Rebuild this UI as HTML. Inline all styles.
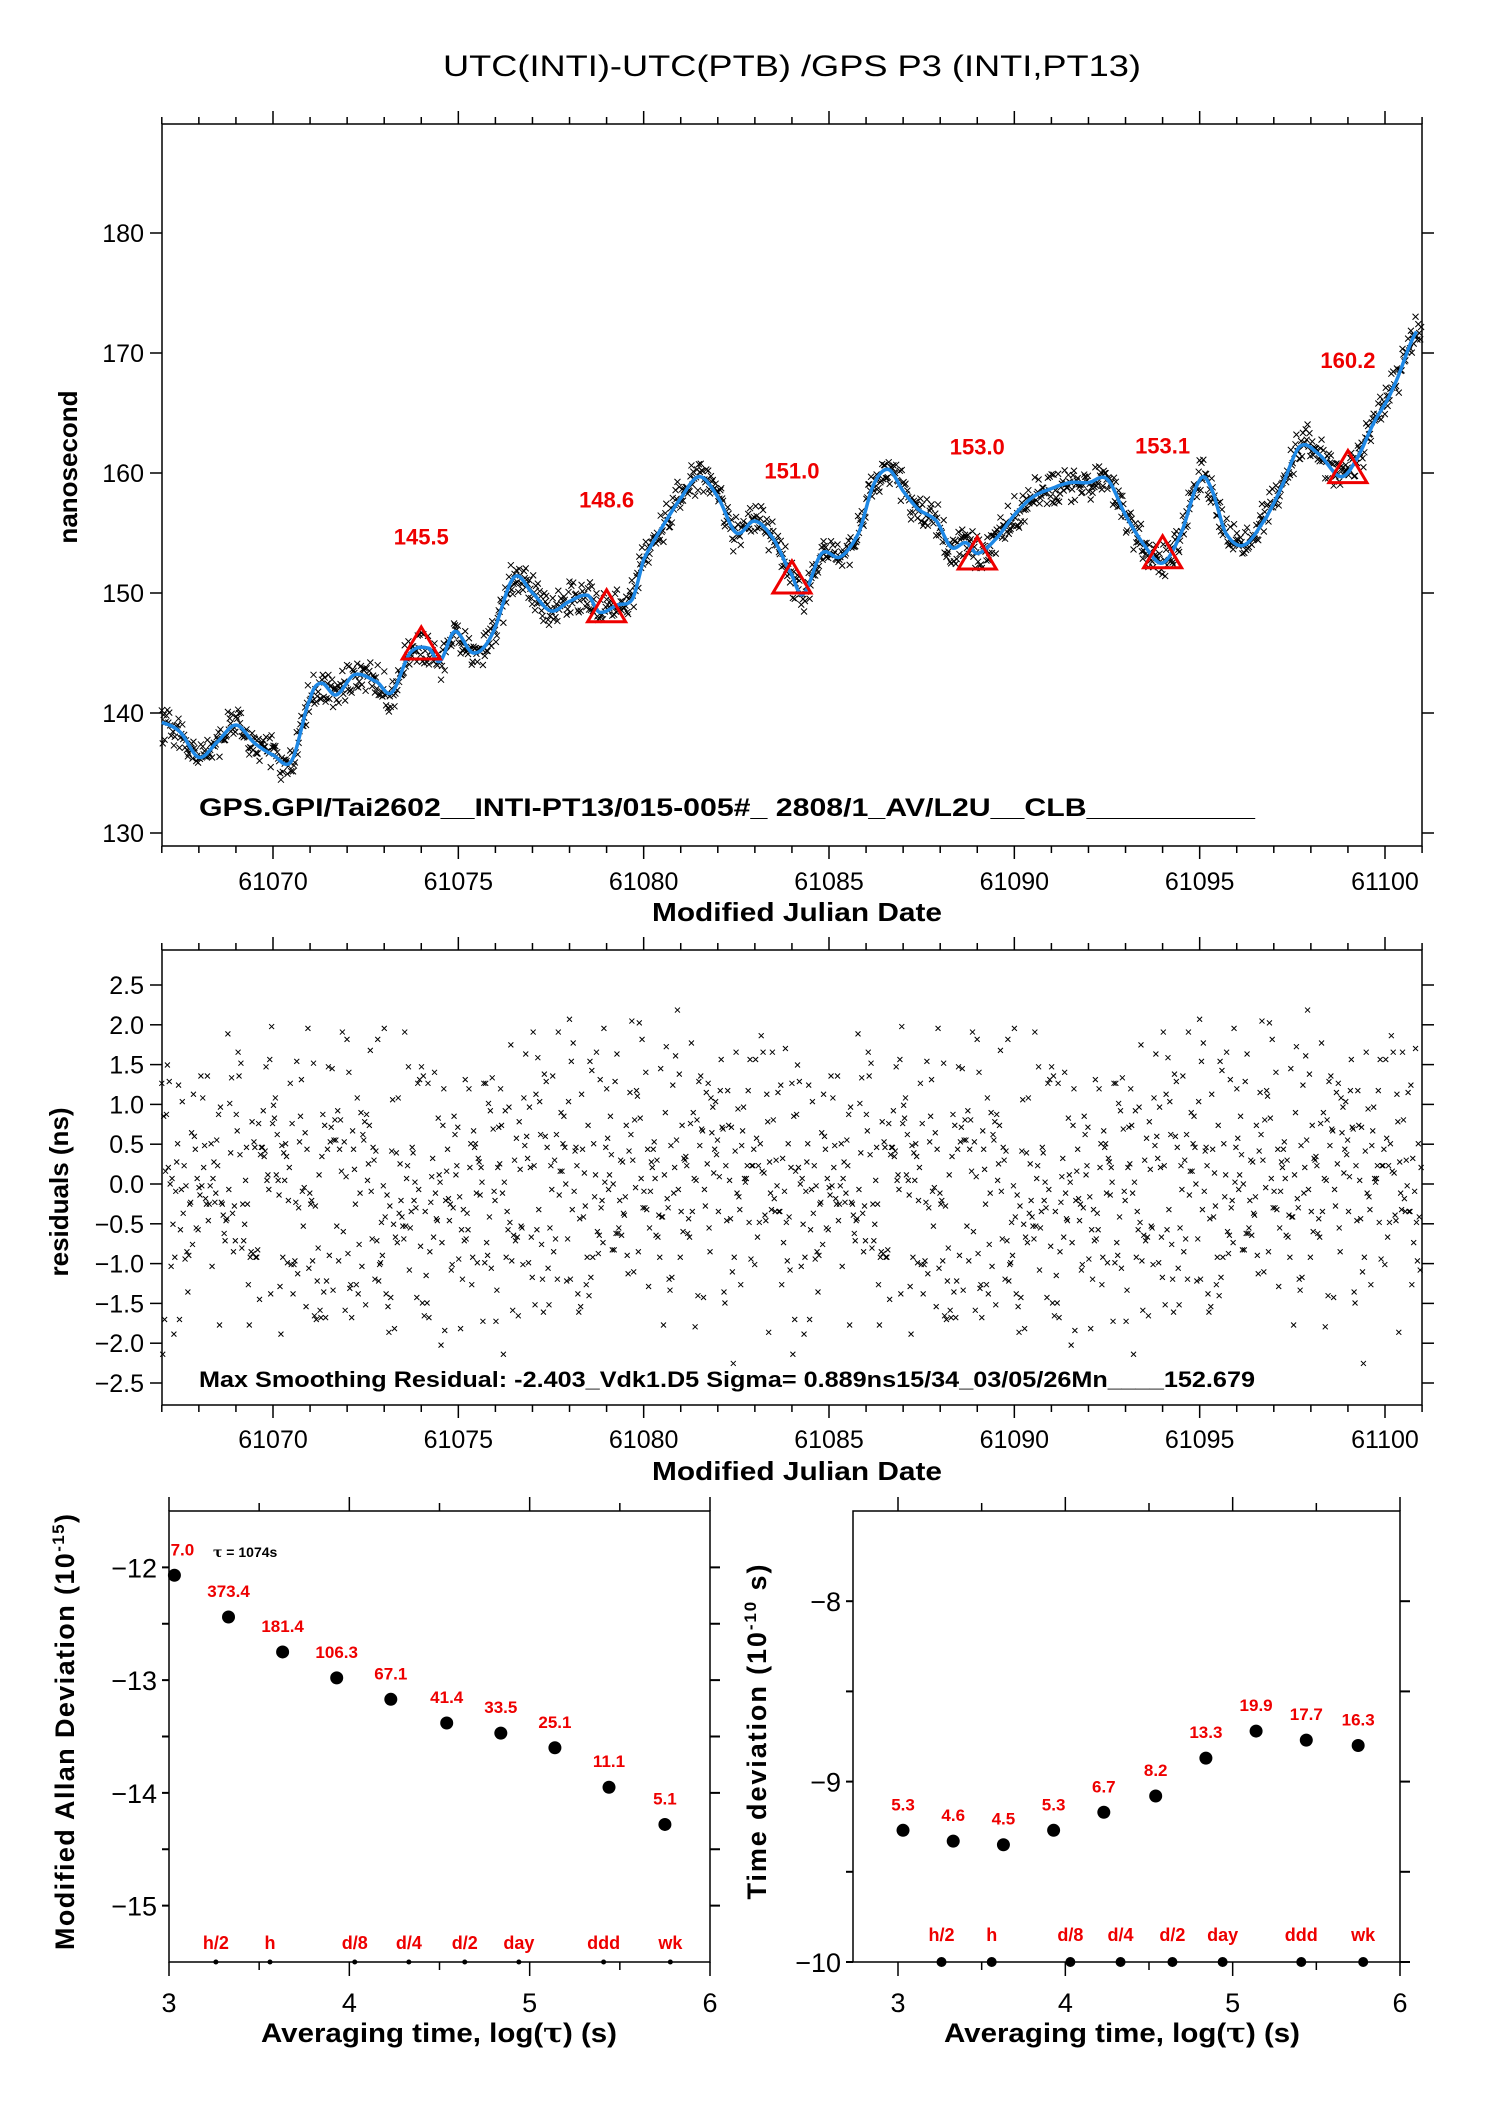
<!DOCTYPE html>
<html><head><meta charset="utf-8">
<style>
html,body{margin:0;padding:0;background:#fff;}
svg{display:block;font-family:"Liberation Sans",sans-serif;}
</style></head>
<body>
<svg id="chart" width="1488" height="2105" viewBox="0 0 1488 2105" xmlns="http://www.w3.org/2000/svg">
<rect x="0" y="0" width="1488" height="2105" fill="#fff"/>
<text x="792" y="76" font-size="30" text-anchor="middle" textLength="698" lengthAdjust="spacingAndGlyphs">UTC(INTI)-UTC(PTB)  /GPS  P3  (INTI,PT13)</text>
<g id="top"></g><g id="res"></g><g id="adev"></g><g id="tdev"></g>
</svg>
<script>
// ---- data ----
const smoothMjd = [61067.0,61067.5,61068.0,61068.5,61069.0,61069.5,61070.0,61070.5,61071.0,61071.3,61071.7,61072.2,61072.8,61073.2,61073.7,61074.2,61074.5,61074.9,61075.4,61075.9,61076.5,61077.0,61077.5,61078.0,61078.5,61078.8,61079.3,61079.7,61080.0,61080.5,61081.0,61081.5,61082.0,61082.5,61083.0,61083.5,61084.0,61084.3,61084.8,61085.3,61085.8,61086.2,61086.6,61087.0,61087.4,61087.9,61088.3,61088.7,61089.0,61089.5,61090.0,61090.5,61091.0,61091.5,61092.0,61092.5,61093.0,61093.5,61094.0,61094.5,61095.0,61095.3,61095.7,61096.2,61096.8,61097.2,61097.7,61098.2,61098.8,61099.2,61099.7,61100.2,61100.9];
const smoothNs = [139.2,138.4,136.3,137.6,139.0,137.5,136.5,136.0,141.2,142.5,141.5,143.2,142.6,141.7,145.0,145.4,144.3,146.8,145.0,146.5,151.3,150.0,148.5,149.3,149.8,148.4,149.0,149.5,152.8,155.5,157.9,159.7,158.0,155.0,156.0,154.5,151.5,149.9,153.3,153.0,155.0,159.0,160.3,158.5,157.0,156.0,153.8,154.2,153.3,154.5,156.5,158.0,158.7,159.2,159.2,159.5,156.5,154.0,152.5,155.0,159.4,158.8,155.0,154.0,156.3,158.8,162.2,161.6,159.7,161.0,164.2,167.0,172.0];
const triMjd = [61074,61079,61084,61089,61094,61099];
const triVal = [145.5,148.6,151.0,153.0,153.1,160.2];
const residDigits = "47291850364729183506274819350627481930572846193057284619305728461930574"+
"52863194705283619470528361947052836194705283619473816205947381620594738"+
"16205947381620594736281940573628194057362819405736281940573628194057291"+
"84036572918403657291840365729184036572918403657291840365748392016574839"+
"20165748392016574839201657483920165748392016561830497561830497561830497"+
"56183049756183049756183049752940618375294061837529406183752940618375294"+
"06183758371920465837192046583719204658371920465837192046583719204654629"+
"18305746291830574629183057462918305746291830574629183057436275819043627"+
"58190436275819043627581904362758190436275819043615847293061584729306158"+
"47293061584729306158472930615847293064";
const adevX = [3.03,3.33,3.63,3.93,4.23,4.54,4.84,5.14,5.44,5.75];
const adevY = [-12.07,-12.44,-12.75,-12.98,-13.17,-13.38,-13.47,-13.6,-13.95,-14.28];
const adevLbl = ["7.0","373.4","181.4","106.3","67.1","41.4","33.5","25.1","11.1","5.1"];
const tdevY = [-9.27,-9.33,-9.35,-9.27,-9.17,-9.08,-8.87,-8.72,-8.77,-8.8];
const tdevLbl = ["5.3","4.6","4.5","5.3","6.7","8.2","13.3","19.9","17.7","16.3"];
const markX = [3.26,3.56,4.03,4.33,4.64,4.94,5.41,5.78];
const markLbl = ["h/2","h","d/8","d/4","d/2","day","ddd","wk"];

const NS="http://www.w3.org/2000/svg";
function mk(parent,tag,attrs,text){const e=document.createElementNS(NS,tag);for(const k in attrs)e.setAttribute(k,attrs[k]);if(text!==undefined)e.textContent=text;parent.appendChild(e);return e;}
function interp(m){const n=smoothMjd.length;
 for(let i=0;i<n-1;i++){if(m<=smoothMjd[i+1]){const t=(m-smoothMjd[i])/(smoothMjd[i+1]-smoothMjd[i]);
  const p0=smoothNs[Math.max(i-1,0)],p1=smoothNs[i],p2=smoothNs[i+1],p3=smoothNs[Math.min(i+2,n-1)];
  const t2=t*t,t3=t2*t;
  return 0.5*((2*p1)+(-p0+p2)*t+(2*p0-5*p1+4*p2-p3)*t2+(-p0+3*p1-3*p2+p3)*t3);}}
 return smoothNs[n-1];}
function xmark(g,x,y,s){mk(g,'path',{d:`M${x-s},${y-s}L${x+s},${y+s}M${x-s},${y+s}L${x+s},${y-s}`,stroke:'#000','stroke-width':1});}
const N=residDigits.length;
function resid(i){const a=+residDigits[(i*13+5)%N],b=+residDigits[(i*37+11)%N],c=+residDigits[(i*71+29)%N],d=+residDigits[(i*3+1)%N];
 const u1=((a*10+b)-49.5)/50,u2=((c*10+d)-49.5)/50;return (u1+u2)*1.15;}

const L=162,R=1422;
const xM=m=>273+(m-61070)*(1385-273)/30;
function xAxis(g,T,B,labY){
 for(let d=61067;d<=61101;d++){const x=xM(d);const len=(d%5===0)?13:7;
  mk(g,'line',{x1:x,y1:B,x2:x,y2:B+len,stroke:'#000','stroke-width':1.5});
  mk(g,'line',{x1:x,y1:T,x2:x,y2:T-len,stroke:'#000','stroke-width':1.5});
  if(d%5===0){const t=mk(g,'text',{x:x,y:labY,'font-size':25,'text-anchor':'middle'},String(d));}}
}
// ---- top panel ----
(function(){
 const g=document.getElementById('top');
 const T=124,B=846;
 const y=v=>833-(v-130)*12;
 const f=mk(g,'rect',{x:L,y:T,width:R-L,height:B-T,fill:'none',stroke:'#000','stroke-width':1.5});
 
 xAxis(g,T,B,890);
 for(let v=130;v<=180;v+=10){const yy=y(v);
  mk(g,'line',{x1:L-12,y1:yy,x2:L,y2:yy,stroke:'#000','stroke-width':1.5});
  mk(g,'line',{x1:R,y1:yy,x2:R+12,y2:yy,stroke:'#000','stroke-width':1.5});
  const t=mk(g,'text',{x:L-18,y:yy+9,'font-size':25,'text-anchor':'end'},String(v));}
 const xt=mk(g,'text',{x:797,y:921,'font-size':26,'font-weight':'bold','text-anchor':'middle',textLength:290,lengthAdjust:'spacingAndGlyphs'},'Modified Julian Date');
 
 const yt=mk(g,'text',{x:0,y:0,'font-size':26,'font-weight':'bold','text-anchor':'middle',transform:`translate(77,${y(160.5)}) rotate(-90)`},'nanosecond');
 
 const pts=mk(g,'g',{});
 const n=2*N;
 for(let i=0;i<n;i++){const m=61067+i*34/n;xmark(pts,xM(m),y(interp(m)+resid(i)*0.8),3);}
 let d='';for(let m=61067;m<=61100.9;m+=0.05){d+=(d?'L':'M')+xM(m).toFixed(1)+','+y(interp(m)).toFixed(1);}
 const ln=mk(g,'path',{d:d,fill:'none',stroke:'#1e88e5','stroke-width':3.5});
 
 for(let i=0;i<triMjd.length;i++){const x=xM(triMjd[i]),yy=y(triVal[i]);
  const tr=mk(g,'path',{d:`M${x},${yy-20}L${x+19},${yy+12}L${x-19},${yy+12}Z`,fill:'none',stroke:'#e00','stroke-width':3});
  
  const t=mk(g,'text',{x:x,y:y(triVal[i]+9.2)+8,'font-size':22,'font-weight':'bold',fill:'#e00','text-anchor':'middle'},triVal[i].toFixed(1));
  }
 const c=mk(g,'text',{x:199,y:816,'font-size':25,'font-weight':'bold',textLength:1056,lengthAdjust:'spacingAndGlyphs'},'GPS.GPI/Tai2602__INTI-PT13/015-005#_  2808/1_AV/L2U__CLB__________');
 
})();

// ---- residuals ----
(function(){
 const g=document.getElementById('res');
 const T=950,B=1405;
 const y=v=>1184-v*79.6;
 const f=mk(g,'rect',{x:L,y:T,width:R-L,height:B-T,fill:'none',stroke:'#000','stroke-width':1.5});
 
 xAxis(g,T,B,1448);
 for(let k=-5;k<=5;k++){const v=k/2,yy=y(v);
  mk(g,'line',{x1:L-12,y1:yy,x2:L,y2:yy,stroke:'#000','stroke-width':1.5});
  mk(g,'line',{x1:R,y1:yy,x2:R+12,y2:yy,stroke:'#000','stroke-width':1.5});
  const t=mk(g,'text',{x:L-18,y:yy+9,'font-size':25,'text-anchor':'end'},(v<0?'\u2212':'')+Math.abs(v).toFixed(1));}
 const xt=mk(g,'text',{x:797,y:1480,'font-size':26,'font-weight':'bold','text-anchor':'middle',textLength:290,lengthAdjust:'spacingAndGlyphs'},'Modified Julian Date');
 
 const yt=mk(g,'text',{x:0,y:0,'font-size':26,'font-weight':'bold','text-anchor':'middle',transform:`translate(68,${y(-0.1)}) rotate(-90)`},'residuals (ns)');
 
 const pts=mk(g,'g',{});
 const n=2*N;
 for(let i=0;i<n;i++){const m=61067+i*34/n;xmark(pts,xM(m),y(resid(i)),2.5);}
 const c=mk(g,'text',{x:199,y:1387,'font-size':22,'font-weight':'bold',textLength:1056,lengthAdjust:'spacingAndGlyphs'},'Max Smoothing Residual: -2.403_Vdk1.D5  Sigma= 0.889ns15/34_03/05/26Mn____152.679');
 
})();

// ---- stability panels ----
function panel(gid,PL,PR,x3,x6,T,B,vTop,vBot,ys,lbls,ytitle,ytx,ytlen,xtc,majorTicks,dotR,markY,name){
 const g=document.getElementById(gid);
 const x=v=>x3+(v-3)*(x6-x3)/3;
 const y=v=>T+(vTop-v)*(B-T)/(vTop-vBot);
 const f=mk(g,'rect',{x:PL,y:T,width:PR-PL,height:B-T,fill:'none',stroke:'#000','stroke-width':1.5});
 
 for(let v=3;v<=6;v+=0.5){const xx=x(v);const len=(v%1===0)?14:8;
  mk(g,'line',{x1:xx,y1:B,x2:xx,y2:B+len,stroke:'#000','stroke-width':1.5});
  mk(g,'line',{x1:xx,y1:T,x2:xx,y2:T-len,stroke:'#000','stroke-width':1.5});
  if(v%1===0){const t=mk(g,'text',{x:xx,y:2012,'font-size':27,'text-anchor':'middle'},String(v));}}
 for(const [v,maj] of majorTicks){const yy=y(v);
  mk(g,'line',{x1:PL,y1:yy,x2:PL-7,y2:yy,stroke:'#000','stroke-width':2});
  mk(g,'line',{x1:PR,y1:yy,x2:PR+10,y2:yy,stroke:'#000','stroke-width':2});
  if(maj){const t=mk(g,'text',{x:PL-12,y:yy+10,'font-size':27,'text-anchor':'end'},'\u2212'+Math.abs(v));}}
 const xt=mk(g,'text',{x:xtc,y:2042,'font-size':27,'font-weight':'bold','text-anchor':'middle',textLength:356,lengthAdjust:'spacingAndGlyphs'});
 xt.innerHTML='Averaging time, log(<tspan font-family="DejaVu Serif">\u03c4</tspan>) (s)';
 
 const yt=mk(g,'text',{x:0,y:0,'font-size':27,'font-weight':'bold','text-anchor':'middle',textLength:ytlen,lengthAdjust:'spacing',transform:`translate(${ytx},1732) rotate(-90)`});
 yt.innerHTML=ytitle;
 
 for(let i=0;i<adevX.length;i++){
  const c=mk(g,'circle',{cx:x(adevX[i]),cy:y(ys[i]),r:6.5,fill:'#000'});
  
  const t=mk(g,'text',{x:x(adevX[i])+(i===0&&gid==='adev'?8:0),y:y(ys[i])-20,'font-size':17,'font-weight':'bold',fill:'#e00','text-anchor':'middle'},lbls[i]);
  }
 for(let i=0;i<markX.length;i++){
  const c=mk(g,'circle',{cx:x(markX[i]),cy:B,r:dotR,fill:'#000'});
  
  const t=mk(g,'text',{x:x(markX[i]),y:markY,'font-size':18,'font-weight':'bold',fill:'#e00','text-anchor':'middle'},markLbl[i]);
  }
 return {x,y,g};
}
const a=panel('adev',169,710,169,710,1511,1962,-11.5,-15.5,adevY,adevLbl,
 'Modified Allan Deviation (10<tspan font-size="17" dy="-10">-15</tspan><tspan dy="10">)</tspan>',74,436,439,
 [[-12,1],[-12.5,0],[-13,1],[-13.5,0],[-14,1],[-14.5,0],[-15,1]],2.5,1949,'allan-plot');
const tl=mk(a.g,'text',{x:213,y:1557,'font-size':14,'font-weight':'bold'});
tl.innerHTML='<tspan font-family="DejaVu Serif">\u03c4</tspan> = 1074s';

panel('tdev',853,1400,898,1400,1511,1962,-7.5,-10,tdevY,tdevLbl,
 'Time deviation (10<tspan font-size="17" dy="-10">-10</tspan><tspan dy="10"> s)</tspan>',766,335,1122,
 [[-8,1],[-8.5,0],[-9,1],[-9.5,0],[-10,1]],5,1941,'time-dev-plot');
</script>
</body></html>
